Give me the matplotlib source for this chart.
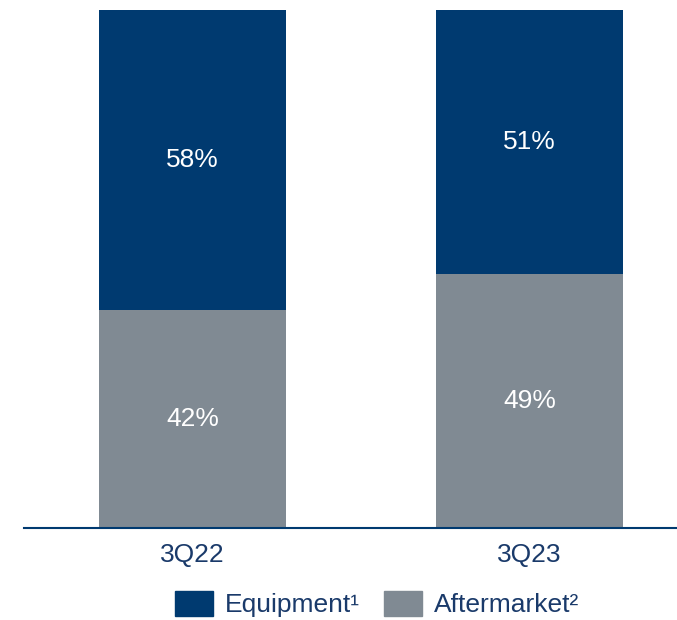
import numpy as np
import matplotlib.pyplot as plt
from matplotlib.patches import Patch

plt.rcParams['font.family'] = ['Liberation Sans', 'DejaVu Sans']

# revenue mix by quarter (%)
quarters = ['3Q22', '3Q23']
aftermarket = [42, 49]
equipment = [58, 51]

navy = '#003a70'
grey = '#808a93'
text_blue = '#1a3a6a'

fig = plt.figure(figsize=(6.77, 6.20), dpi=100)
ax = fig.add_axes([24/677, 92/620, 653/677, 518/620])

x = np.arange(len(quarters))
w = 0.555
ax.bar(x, aftermarket, width=w, color=grey)
ax.bar(x, equipment, width=w, bottom=aftermarket, color=navy)

for i in range(len(quarters)):
    ax.text(x[i], aftermarket[i] / 2, f'{aftermarket[i]}%', color='white',
            fontsize=19, ha='center', va='center')
    ax.text(x[i], aftermarket[i] + equipment[i] / 2, f'{equipment[i]}%',
            color='white', fontsize=19, ha='center', va='center')

ax.set_xlim(-0.5, 1.4377)
ax.set_ylim(0, 100)
for s in ['top', 'right', 'left']:
    ax.spines[s].set_visible(False)
ax.spines['bottom'].set_color(navy)
ax.spines['bottom'].set_linewidth(1.5)
ax.set_yticks([])
ax.set_xticks(x)
ax.set_xticklabels(quarters, fontsize=19, color=text_blue)
ax.tick_params(axis='x', length=0, pad=11)

handles = [Patch(color=navy, label='Equipment¹'),
           Patch(color=grey, label='Aftermarket²')]
leg = fig.legend(handles=handles, loc='center', bbox_to_anchor=(0.557, 0.026),
                 ncol=2, frameon=False, fontsize=19, handlelength=1.45,
                 handleheight=1.1, handletextpad=0.45, columnspacing=0.9)
for t in leg.get_texts():
    t.set_color(text_blue)

fig.savefig('out.png', dpi=100)
